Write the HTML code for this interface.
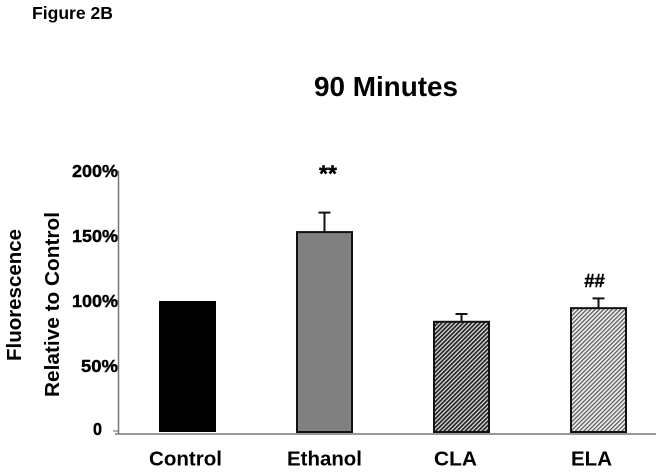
<!DOCTYPE html>
<html>
<head>
<meta charset="utf-8">
<style>
html,body{margin:0;padding:0;background:#fff;}
body{width:662px;height:472px;overflow:hidden;}
svg{display:block;}
text{font-family:"Liberation Sans",sans-serif;font-weight:bold;fill:#000;}
</style>
</head>
<body>
<svg id="chart" width="662" height="472" viewBox="0 0 662 472" xmlns="http://www.w3.org/2000/svg">
  <defs>
    <pattern id="hatch-dark" width="3" height="3" patternUnits="userSpaceOnUse" patternTransform="rotate(-45)">
      <rect width="3" height="3" fill="#ddd"/>
      <rect width="3" height="1.7" fill="#222"/>
    </pattern>
    <pattern id="hatch-light" width="3" height="3" patternUnits="userSpaceOnUse" patternTransform="rotate(-45)">
      <rect width="3" height="3" fill="#eee"/>
      <rect width="3" height="1.2" fill="#555"/>
    </pattern>
  </defs>
  <text x="32" y="19" font-size="17.5" textLength="81" lengthAdjust="spacingAndGlyphs">Figure 2B</text>
  <text x="314" y="96" font-size="28" textLength="144" lengthAdjust="spacingAndGlyphs">90 Minutes</text>
  <text transform="translate(21,361) rotate(-90)" font-size="20.5" textLength="132" lengthAdjust="spacingAndGlyphs">Fluorescence</text>
  <text transform="translate(59,397) rotate(-90)" font-size="20.5" textLength="185" lengthAdjust="spacingAndGlyphs">Relative to Control</text>
  <g id="marks"></g>
</svg>
<script>
var categories = ["Control", "Ethanol", "CLA", "ELA"];
var values = [100, 153, 84, 94.5];
var errorTops = [null, 168, 90, 102];
var annotations = ["", "**", "", "##"];
var tickValues = [0, 50, 100, 150, 200];
var tickLabels = ["0", "50%", "100%", "150%", "200%"];

var NS = "http://www.w3.org/2000/svg";
var marks = document.getElementById("marks");
var fills = ["#000", "#808080", "url(#hatch-dark)", "url(#hatch-light)"];
var labelNudge = [-2, 0, -6, -7];
var labelWidths = [73, 75, 43, 41];

function yScale(v) { return 431 - v * 1.3; }
function xScale(i) { return 187.5 + i * 137; }
function make(tag, attrs, parent) {
  var el = document.createElementNS(NS, tag);
  for (var k in attrs) { el.setAttribute(k, attrs[k]); }
  (parent || marks).appendChild(el);
  return el;
}

var yAxis = make("line", {x1: 118.5, y1: yScale(200), x2: 118.5, y2: 434, stroke: "#777", "stroke-width": 1.5});



tickValues.forEach(function (t, i) {
  var tick = make("line", {x1: 113, y1: yScale(t), x2: 118.5, y2: yScale(t), stroke: "#666", "stroke-width": 1});
  
  
  var isZero = t === 0;
  var width = tickLabels[i].length === 4 ? 46 : tickLabels[i].length === 3 ? 37 : 9;
  var label = make("text", {
    x: (isZero ? 102 : 118) - width, y: yScale(t) + (isZero ? 4 : 6), "font-size": 17.5,
    textLength: width, lengthAdjust: "spacingAndGlyphs",
    stroke: "#000", "stroke-width": 0.4
  });
  
  
  label.textContent = tickLabels[i];
});

categories.forEach(function (c, i) {
  var cx = xScale(i);
  var top = yScale(values[i]);
  if (errorTops[i] !== null) {
    var eTop = yScale(errorTops[i]);
    var stem = make("line", {x1: cx, y1: eTop, x2: cx, y2: top, stroke: "#111", "stroke-width": 2});
    
    
    var cap = make("line", {x1: cx - 6, y1: eTop, x2: cx + 6, y2: eTop, stroke: "#111", "stroke-width": 2});
    
    
  }
  var hasOutline = i > 0;
  var bar = make("rect", {
    x: cx - (hasOutline ? 27.5 : 28.5), y: top,
    width: hasOutline ? 55 : 57, height: 432 - top,
    fill: fills[i], stroke: hasOutline ? "#111" : "none", "stroke-width": 2
  });
  
  
  var labelWidth = labelWidths[i];
  var label = make("text", {
    x: cx + labelNudge[i] - labelWidth / 2, y: 465.5, "font-size": 20,
    textLength: labelWidth, lengthAdjust: "spacingAndGlyphs"
  });
  
  
  label.textContent = c;
  if (annotations[i]) {
    var isStars = annotations[i] === "**";
    var mark = make("text", {
      x: cx + (isStars ? 3.5 : -4), y: isStars ? 181.5 : 287,
      "font-size": isStars ? 23 : 18.5, "text-anchor": "middle",
      stroke: "#000", "stroke-width": 0.4
    });
    
    
    mark.textContent = annotations[i];
  }
});

var xAxis = make("line", {x1: 115, y1: 434, x2: 656, y2: 434, stroke: "#777", "stroke-width": 1.5});


</script>
</body>
</html>
